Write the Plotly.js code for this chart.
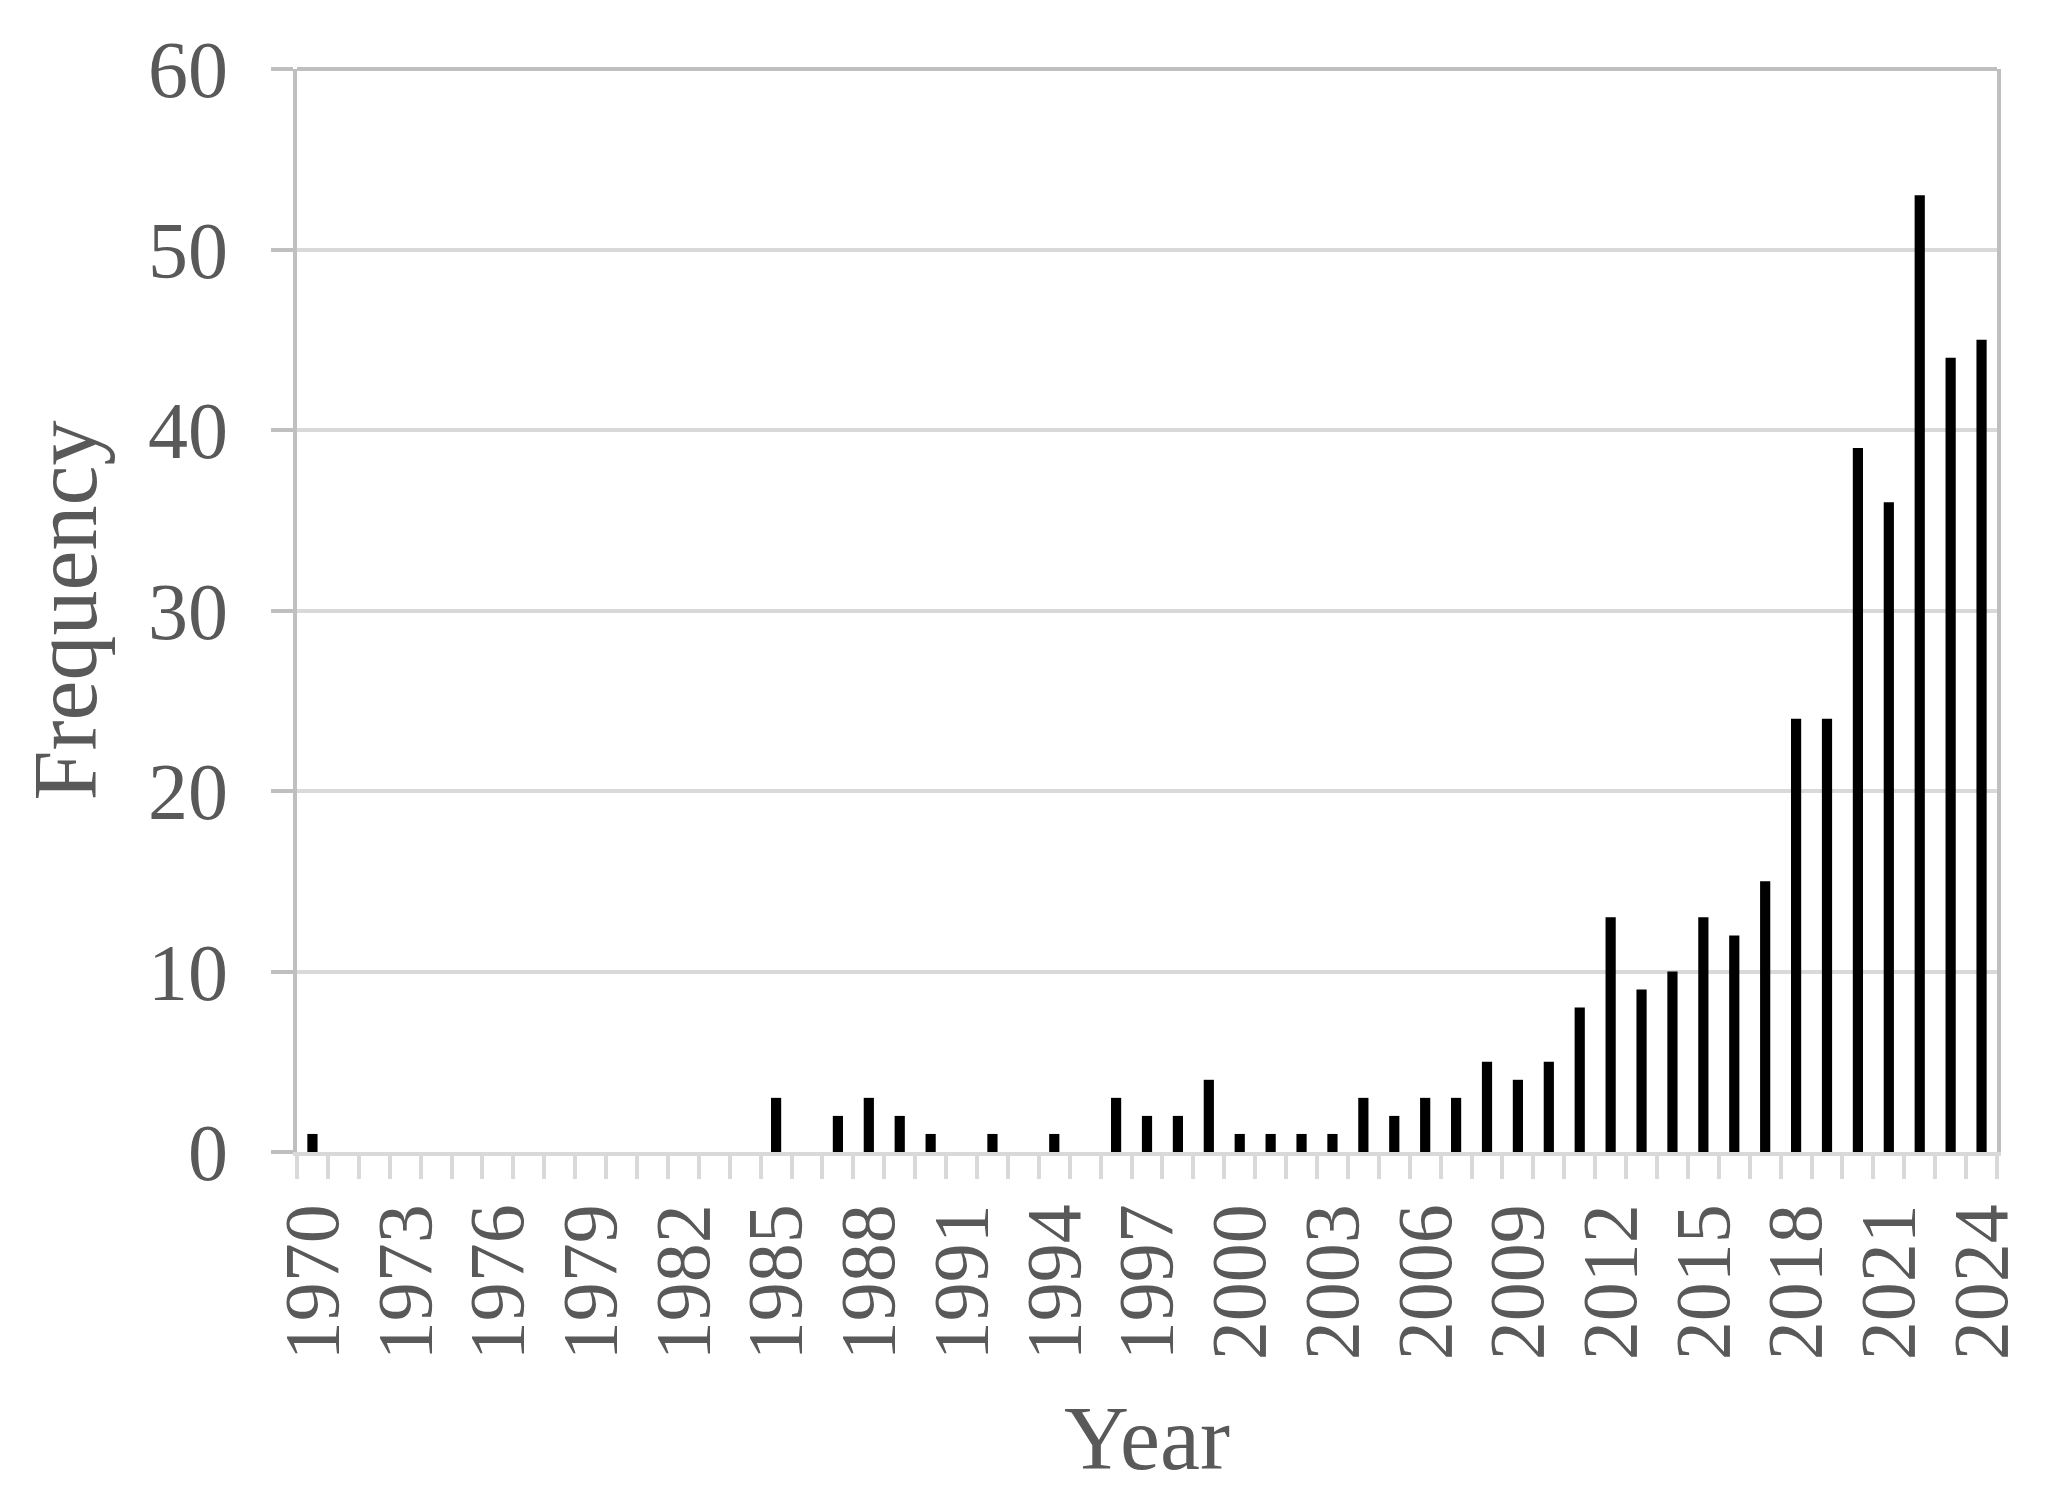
<!DOCTYPE html>
<html>
<head>
<meta charset="utf-8">
<script src="https://cdn.plot.ly/plotly-3.0.1.min.js"></script>
<style>html,body{margin:0;padding:0;background:#fff;}</style>
</head>
<body>
<div id="chart" style="width:2051px;height:1497px;"></div>
<script>
const years = [1970,1971,1972,1973,1974,1975,1976,1977,1978,1979,
  1980,1981,1982,1983,1984,1985,1986,1987,1988,1989,
  1990,1991,1992,1993,1994,1995,1996,1997,1998,1999,
  2000,2001,2002,2003,2004,2005,2006,2007,2008,2009,
  2010,2011,2012,2013,2014,2015,2016,2017,2018,2019,
  2020,2021,2022,2023,2024];
const frequency = [1,0,0,0,0,0,0,0,0,0,
  0,0,0,0,0,3,0,2,3,2,
  1,0,1,0,1,0,3,2,2,4,
  1,1,1,1,3,2,3,3,5,4,
  5,8,13,9,10,13,12,15,24,24,
  39,36,53,44,45];
const xTickYears = [1970,1973,1976,1979,1982,1985,1988,1991,1994,1997,2000,2003,2006,2009,2012,2015,2018,2021,2024];
const xTickText = ['1970','1973','1976','1979','1982','1985','1988','1991','1994','1997','2000','2003','2006','2009','2012','2015','2018','2021','2024'];
const yTickVals = [0,10,20,30,40,50,60];

const FONT = "'Liberation Serif', 'Times New Roman', serif";
const TXT = '#595959';

const trace = {
  type: 'bar',
  x: years,
  y: frequency,
  marker: {color: '#000000', line: {width: 0}},
  hoverinfo: 'x+y'
};

const layout = {
  width: 2051,
  height: 1497,
  paper_bgcolor: '#ffffff',
  plot_bgcolor: '#ffffff',
  margin: {l: 297, r: 54, t: 69, b: 345, pad: 0},
  bargap: 0.67,
  showlegend: false,
  font: {family: FONT, color: TXT},
  xaxis: {
    type: 'linear',
    range: [1969.5, 2024.5],
    tickmode: 'array',
    tickvals: xTickYears,
    ticktext: xTickText,
    tickangle: -90,
    ticks: 'outside',
    ticklen: 11,
    tickcolor: 'rgba(0,0,0,0)',
    tickwidth: 1,
    ticklabelstandoff: 6,
    tickfont: {family: FONT, size: 78, color: TXT},
    showgrid: false,
    zeroline: false,
    showline: true,
    linecolor: '#d9d9d9',
    linewidth: 4,
    mirror: false,
    minor: {
      tickmode: 'linear',
      tick0: 1969.5,
      dtick: 1,
      ticks: 'outside',
      ticklen: 23,
      tickwidth: 4,
      tickcolor: '#d9d9d9',
      showgrid: false
    },
    title: {text: 'Year', font: {family: FONT, size: 90, color: TXT}, standoff: 48},
    automargin: false,
    fixedrange: true
  },
  yaxis: {
    range: [0, 60],
    tickmode: 'array',
    tickvals: yTickVals,
    ticks: 'outside',
    ticklen: 22,
    tickwidth: 4,
    tickcolor: '#bfbfbf',
    ticklabelstandoff: 27,
    tickfont: {family: FONT, size: 80, color: TXT},
    showgrid: true,
    gridcolor: '#d9d9d9',
    gridwidth: 4,
    zeroline: false,
    showline: true,
    linecolor: '#bfbfbf',
    linewidth: 4,
    mirror: true,
    title: {text: 'Frequency', font: {family: FONT, size: 90, color: TXT}, standoff: 23},
    automargin: false,
    fixedrange: true
  },
  shapes: [
    {type: 'line', xref: 'paper', yref: 'paper', x0: 0, x1: 1, y0: 1, y1: 1,
     line: {color: '#bfbfbf', width: 4}, layer: 'above'}
  ]
};

Plotly.newPlot('chart', [trace], layout, {displayModeBar: false, staticPlot: true});
</script>
</body>
</html>
